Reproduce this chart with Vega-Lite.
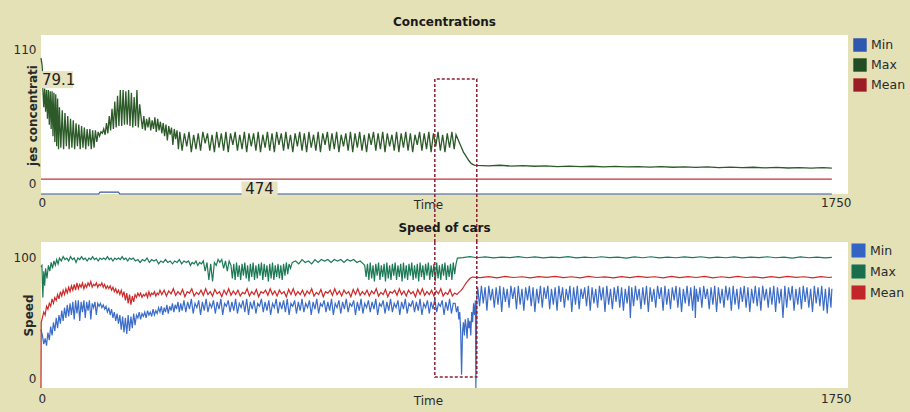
{
"$schema": "https://vega.github.io/schema/vega-lite/v6.json",
"background": "#e4e1b7",
"padding": {"left": 13, "top": 16, "right": 6, "bottom": 6},
"config": {
  "font": "DejaVu Sans",
  "view": {"fill": "white", "stroke": null},
  "axis": {"domain": false, "ticks": false, "grid": false, "labelFontSize": 12, "labelColor": "#2a2a2a", "titleFontSize": 12, "titleColor": "#2a2a2a", "titleFontWeight": "normal"},
  "axisX": {"labelFlush": true, "format": "d"},
  "axisY": {"labelFlush": false, "labelBaseline": "middle"},
  "title": {"fontSize": 12, "fontWeight": "bold", "color": "#1a1a1a"},
  "legend": {"title": null, "orient": "right", "symbolType": "square", "labelFontSize": 12.5, "labelColor": "#2a2a2a", "labelOffset": 4, "symbolStrokeWidth": 1}
},
"datasets": {
  "cMin": [{"t":0,"v":0},{"t":125,"v":0},{"t":128,"v":1.3},{"t":168,"v":1.3},{"t":171,"v":0},{"t":1715,"v":0}],
  "cMean": [{"t":0,"v":10.3},{"t":1715,"v":10.3}],
  "cMax": [{"t":0,"v":94},{"t":2,"v":90},{"t":3,"v":86},{"t":4,"v":73},{"t":6,"v":60},{"t":8,"v":73},{"t":10,"v":57},{"t":12,"v":72},{"t":14,"v":52},{"t":16,"v":72},{"t":18,"v":48},{"t":20,"v":71},{"t":22,"v":45},{"t":24,"v":71},{"t":26,"v":40},{"t":28,"v":70},{"t":30,"v":36},{"t":32,"v":69},{"t":34,"v":33},{"t":36,"v":66},{"t":38,"v":31},
  {"t":40,"v":60},{"t":43,"v":32},{"t":46,"v":58},{"t":49,"v":31},{"t":52,"v":56},{"t":55,"v":33},{"t":58,"v":54},{"t":61,"v":31},{"t":64,"v":52},{"t":67,"v":32},{"t":70,"v":51},{"t":73,"v":31},{"t":76,"v":49},{"t":79,"v":33},{"t":82,"v":48},{"t":85,"v":31},{"t":88,"v":47},{"t":91,"v":32},{"t":94,"v":46},{"t":97,"v":31},{"t":100,"v":45},{"t":103,"v":33},{"t":106,"v":45},{"t":109,"v":31},{"t":112,"v":44},{"t":115,"v":32},{"t":118,"v":44},{"t":121,"v":36},{"t":124,"v":43},{"t":127,"v":40},{"t":130,"v":43},
  {"t":133,"v":42},{"t":136,"v":45},{"t":139,"v":41},{"t":142,"v":49},{"t":145,"v":42},{"t":148,"v":54},{"t":151,"v":44},{"t":154,"v":59},{"t":157,"v":45},{"t":160,"v":64},{"t":163,"v":46},{"t":166,"v":68},{"t":169,"v":47},{"t":172,"v":72},{"t":175,"v":47},{"t":178,"v":72},{"t":181,"v":48},{"t":184,"v":71},{"t":187,"v":48},{"t":190,"v":72},{"t":193,"v":47},{"t":196,"v":70},{"t":199,"v":46},{"t":202,"v":67},{"t":205,"v":47},{"t":208,"v":72},{"t":211,"v":46},{"t":214,"v":62},
  {"t":217,"v":53},{"t":220,"v":45},{"t":223,"v":54},{"t":226,"v":44},{"t":229,"v":52},{"t":232,"v":46},{"t":235,"v":53},{"t":238,"v":44},{"t":241,"v":51},{"t":244,"v":45},{"t":247,"v":53},{"t":250,"v":43},{"t":253,"v":52},{"t":256,"v":44},
  {"t":259,"v":50},{"t":262,"v":42},{"t":265,"v":49},{"t":268,"v":40},{"t":271,"v":48},{"t":274,"v":37},{"t":277,"v":47},{"t":280,"v":41},{"t":283,"v":46},{"t":286,"v":34},{"t":289,"v":45},{"t":292,"v":38},{"t":295,"v":44},{"t":298,"v":31},
  {"t":301,"v":43},{"t":306,"v":30},{"t":311,"v":42},{"t":316,"v":33},{"t":321,"v":43},{"t":326,"v":29},{"t":331,"v":41},{"t":336,"v":31},{"t":341,"v":42},{"t":346,"v":30},{"t":351,"v":43},{"t":356,"v":35},{"t":361,"v":42},{"t":366,"v":30},{"t":371,"v":41},{"t":376,"v":29},{"t":381,"v":43},{"t":386,"v":32},{"t":391,"v":42},{"t":396,"v":30},{"t":401,"v":43},{"t":406,"v":29},{"t":411,"v":42},{"t":416,"v":34},{"t":421,"v":43},{"t":426,"v":30},{"t":431,"v":41},{"t":436,"v":31},{"t":441,"v":43},{"t":446,"v":29},{"t":451,"v":42},{"t":456,"v":33},{"t":461,"v":42},{"t":466,"v":30},{"t":471,"v":43},{"t":476,"v":29},{"t":481,"v":41},{"t":486,"v":32},{"t":491,"v":43},{"t":496,"v":30},{"t":501,"v":42},{"t":506,"v":29},{"t":511,"v":43},{"t":516,"v":34},{"t":521,"v":42},{"t":526,"v":30},{"t":531,"v":43},{"t":536,"v":31},{"t":541,"v":41},{"t":546,"v":29},{"t":551,"v":42},{"t":556,"v":33},{"t":561,"v":43},{"t":566,"v":30},{"t":571,"v":42},{"t":576,"v":29},{"t":581,"v":43},{"t":586,"v":32},{"t":591,"v":41},{"t":596,"v":30},{"t":601,"v":43},{"t":606,"v":29},{"t":611,"v":42},{"t":616,"v":34},{"t":621,"v":43},{"t":626,"v":30},{"t":631,"v":42},{"t":636,"v":31},{"t":641,"v":43},{"t":646,"v":29},{"t":651,"v":41},{"t":656,"v":33},{"t":661,"v":42},{"t":666,"v":30},{"t":671,"v":43},{"t":676,"v":29},{"t":681,"v":42},{"t":686,"v":32},{"t":691,"v":43},{"t":696,"v":30},{"t":701,"v":41},{"t":706,"v":29},{"t":711,"v":42},{"t":716,"v":34},{"t":721,"v":43},{"t":726,"v":30},{"t":731,"v":42},{"t":736,"v":31},{"t":741,"v":43},{"t":746,"v":29},{"t":751,"v":42},{"t":756,"v":33},{"t":761,"v":41},{"t":766,"v":30},{"t":771,"v":43},{"t":776,"v":29},{"t":781,"v":42},{"t":786,"v":32},{"t":791,"v":43},{"t":796,"v":30},{"t":801,"v":42},{"t":806,"v":29},{"t":811,"v":41},{"t":816,"v":34},{"t":821,"v":43},{"t":826,"v":30},{"t":831,"v":42},{"t":836,"v":31},{"t":841,"v":43},{"t":846,"v":29},{"t":851,"v":42},{"t":856,"v":33},{"t":861,"v":43},{"t":866,"v":30},{"t":871,"v":41},{"t":876,"v":29},{"t":881,"v":42},{"t":886,"v":32},{"t":891,"v":43},{"t":896,"v":31},
  {"t":900,"v":41},{"t":904,"v":38},{"t":908,"v":35},{"t":912,"v":32},{"t":916,"v":29},{"t":920,"v":27},{"t":924,"v":25},{"t":928,"v":23},{"t":932,"v":21.5},{"t":936,"v":20.5},{"t":940,"v":20},{"t":945,"v":19.8},
  {"t":970,"v":19.5},{"t":995,"v":19.9},{"t":1020,"v":19.3},{"t":1045,"v":19.6},{"t":1070,"v":19.2},{"t":1095,"v":19.5},{"t":1120,"v":19.0},{"t":1145,"v":19.3},{"t":1170,"v":18.9},{"t":1195,"v":19.2},{"t":1220,"v":18.8},{"t":1245,"v":19.1},{"t":1270,"v":18.7},{"t":1295,"v":19.0},{"t":1320,"v":18.6},{"t":1345,"v":18.9},{"t":1370,"v":18.5},{"t":1395,"v":18.8},{"t":1420,"v":18.4},{"t":1445,"v":18.7},{"t":1470,"v":18.3},{"t":1495,"v":18.6},{"t":1520,"v":18.2},{"t":1545,"v":18.5},{"t":1570,"v":18.1},{"t":1595,"v":18.4},{"t":1620,"v":18.0},{"t":1645,"v":18.3},{"t":1670,"v":17.9},{"t":1695,"v":18.2},{"t":1715,"v":17.9}],
  "sMax": [{"t":0,"v":83},{"t":2,"v":84},{"t":4,"v":62},{"t":6,"v":80},{"t":8,"v":70},{"t":10,"v":82},{"t":13,"v":75},{"t":16,"v":84},{"t":19,"v":80},{"t":22,"v":86},{"t":25,"v":82},{"t":28,"v":87},{"t":31,"v":84},{"t":34,"v":88},{"t":37,"v":85},{"t":40,"v":89},{"t":44,"v":87},{"t":48,"v":90},{"t":52,"v":88},{"t":56,"v":89},{"t":60,"v":87},{"t":64,"v":90},{"t":68,"v":88},{"t":72,"v":89},{"t":76,"v":86},{"t":80,"v":89},{"t":84,"v":88},{"t":88,"v":90},{"t":92,"v":88},{"t":96,"v":89},{"t":100,"v":87},{"t":104,"v":89},{"t":108,"v":88},{"t":112,"v":90},{"t":116,"v":88},{"t":120,"v":89},{"t":124,"v":87},{"t":128,"v":89},{"t":132,"v":88},{"t":136,"v":89},{"t":140,"v":88},{"t":144,"v":90},{"t":148,"v":88},{"t":152,"v":89},{"t":156,"v":87},{"t":160,"v":89},{"t":164,"v":88},{"t":168,"v":89},{"t":172,"v":88},{"t":176,"v":90},{"t":180,"v":88},{"t":184,"v":89},{"t":188,"v":87},{"t":192,"v":89},{"t":196,"v":88},{"t":200,"v":89},{"t":205,"v":87},{"t":210,"v":88},{"t":215,"v":86},{"t":220,"v":88},{"t":225,"v":87},{"t":230,"v":89},{"t":235,"v":86},{"t":240,"v":88},{"t":245,"v":87},{"t":250,"v":88},{"t":255,"v":85},{"t":260,"v":87},{"t":265,"v":86},{"t":270,"v":88},{"t":275,"v":86},{"t":280,"v":87},{"t":285,"v":85},{"t":290,"v":87},{"t":295,"v":86},{"t":300,"v":88},{"t":305,"v":85},{"t":310,"v":87},{"t":315,"v":86},{"t":320,"v":87},{"t":324,"v":84},{"t":328,"v":86},{"t":332,"v":85},{"t":336,"v":87},{"t":340,"v":84},{"t":344,"v":86},{"t":348,"v":85},{"t":352,"v":87},{"t":356,"v":80},{"t":360,"v":86},{"t":364,"v":74},{"t":368,"v":85},{"t":372,"v":73},{"t":376,"v":86},{"t":380,"v":84},{"t":384,"v":88},{"t":388,"v":86},{"t":392,"v":88},{"t":396,"v":82},{"t":400,"v":87},{"t":404,"v":80},{"t":408,"v":87},
  {"t":412,"v":84},{"t":415,"v":75},{"t":418,"v":85},{"t":421,"v":74},{"t":424,"v":86},{"t":427,"v":76},{"t":430,"v":84},{"t":433,"v":74},{"t":436,"v":85},{"t":439,"v":77},{"t":442,"v":86},{"t":445,"v":75},{"t":448,"v":84},{"t":451,"v":73},{"t":454,"v":85},{"t":457,"v":76},{"t":460,"v":86},{"t":463,"v":74},{"t":466,"v":84},{"t":469,"v":75},{"t":472,"v":85},{"t":475,"v":77},{"t":478,"v":86},{"t":481,"v":74},{"t":484,"v":85},{"t":487,"v":76},{"t":490,"v":84},{"t":493,"v":73},{"t":496,"v":85},{"t":499,"v":75},{"t":502,"v":86},{"t":505,"v":74},{"t":508,"v":84},{"t":511,"v":76},{"t":514,"v":85},{"t":517,"v":75},{"t":520,"v":84},{"t":523,"v":74},{"t":526,"v":85},{"t":529,"v":77},{"t":532,"v":86},{"t":535,"v":78},{"t":538,"v":85},{"t":541,"v":82},
  {"t":545,"v":86},{"t":552,"v":87},{"t":559,"v":85},{"t":566,"v":88},{"t":573,"v":86},{"t":580,"v":87},{"t":587,"v":85},{"t":594,"v":88},{"t":601,"v":86},{"t":608,"v":88},{"t":615,"v":87},{"t":622,"v":88},{"t":629,"v":86},{"t":636,"v":88},{"t":643,"v":87},{"t":650,"v":88},{"t":657,"v":86},{"t":664,"v":88},{"t":671,"v":87},{"t":678,"v":88},{"t":685,"v":86},{"t":692,"v":87},{"t":699,"v":85},
  {"t":702,"v":84},{"t":705,"v":76},{"t":708,"v":85},{"t":711,"v":74},{"t":714,"v":86},{"t":717,"v":75},{"t":720,"v":84},{"t":723,"v":73},{"t":726,"v":85},{"t":729,"v":77},{"t":732,"v":86},{"t":735,"v":74},{"t":738,"v":84},{"t":741,"v":76},{"t":744,"v":85},{"t":747,"v":73},{"t":750,"v":86},{"t":753,"v":75},{"t":756,"v":84},{"t":759,"v":74},{"t":762,"v":85},{"t":765,"v":77},{"t":768,"v":86},{"t":771,"v":74},{"t":774,"v":84},{"t":777,"v":76},{"t":780,"v":85},{"t":783,"v":73},{"t":786,"v":86},{"t":789,"v":75},{"t":792,"v":84},{"t":795,"v":74},{"t":798,"v":85},{"t":801,"v":77},{"t":804,"v":86},{"t":807,"v":74},{"t":810,"v":84},{"t":813,"v":75},{"t":816,"v":85},{"t":819,"v":73},{"t":822,"v":86},{"t":825,"v":76},{"t":828,"v":84},{"t":831,"v":74},{"t":834,"v":85},{"t":837,"v":77},{"t":840,"v":86},{"t":843,"v":74},{"t":846,"v":84},{"t":849,"v":76},{"t":852,"v":85},{"t":855,"v":73},{"t":858,"v":86},{"t":861,"v":75},{"t":864,"v":84},{"t":867,"v":74},{"t":870,"v":85},{"t":873,"v":77},{"t":876,"v":86},{"t":879,"v":74},{"t":882,"v":84},{"t":885,"v":76},{"t":888,"v":85},{"t":891,"v":74},{"t":894,"v":86},{"t":897,"v":78},{"t":900,"v":85},
  {"t":903,"v":89},{"t":915,"v":89.3},{"t":930,"v":90},{"t":945,"v":89.2},{"t":963,"v":89.8},{"t":981,"v":89.1},{"t":999,"v":89.7},{"t":1017,"v":89.3},{"t":1035,"v":90},{"t":1053,"v":89.2},{"t":1071,"v":89.8},{"t":1089,"v":89.1},{"t":1107,"v":89.6},{"t":1125,"v":89.3},{"t":1143,"v":90},{"t":1161,"v":89.1},{"t":1179,"v":89.7},{"t":1197,"v":89.2},{"t":1215,"v":89.9},{"t":1233,"v":89.3},{"t":1251,"v":89.7},{"t":1269,"v":89},{"t":1287,"v":89.8},{"t":1305,"v":89.2},{"t":1323,"v":89.9},{"t":1341,"v":89.1},{"t":1359,"v":89.6},{"t":1377,"v":89.2},{"t":1395,"v":89.8},{"t":1413,"v":89.3},{"t":1431,"v":89.9},{"t":1449,"v":89.1},{"t":1467,"v":89.7},{"t":1485,"v":89.2},{"t":1503,"v":89.8},{"t":1521,"v":89.1},{"t":1539,"v":89.6},{"t":1557,"v":89.3},{"t":1575,"v":89.9},{"t":1593,"v":89.2},{"t":1611,"v":89.7},{"t":1629,"v":89},{"t":1647,"v":89.8},{"t":1665,"v":89.2},{"t":1683,"v":89.7},{"t":1701,"v":89.1},{"t":1715,"v":89.5}],
  "sMean": [{"t":0,"v":0},{"t":0.5,"v":45},{"t":3,"v":48},{"t":6,"v":52},{"t":9,"v":50},{"t":12,"v":56},{"t":15,"v":54},{"t":18,"v":58},{"t":21,"v":56},{"t":24,"v":61},{"t":27,"v":58},{"t":30,"v":62},{"t":33,"v":60},{"t":36,"v":64},{"t":39,"v":61},{"t":42,"v":66},{"t":45,"v":63},{"t":48,"v":67},{"t":51,"v":64},{"t":54,"v":68},{"t":57,"v":65},{"t":60,"v":69},{"t":63,"v":66},{"t":66,"v":70},{"t":69,"v":67},{"t":72,"v":71},{"t":75,"v":67},{"t":78,"v":72},{"t":81,"v":68},{"t":84,"v":71},{"t":87,"v":69},{"t":90,"v":72},{"t":93,"v":68},{"t":96,"v":71},{"t":99,"v":69},{"t":102,"v":72},{"t":105,"v":70},{"t":108,"v":73},{"t":111,"v":69},{"t":114,"v":71},{"t":117,"v":70},{"t":120,"v":72},{"t":123,"v":69},{"t":126,"v":71},{"t":129,"v":70},{"t":132,"v":72},{"t":135,"v":69},{"t":138,"v":71},{"t":141,"v":68},{"t":144,"v":70},{"t":147,"v":68},{"t":150,"v":70},{"t":153,"v":67},{"t":156,"v":69},{"t":159,"v":66},{"t":162,"v":68},{"t":165,"v":65},{"t":168,"v":67},{"t":171,"v":64},{"t":174,"v":67},{"t":177,"v":63},{"t":180,"v":66},{"t":183,"v":60},{"t":186,"v":65},{"t":189,"v":58},{"t":192,"v":64},{"t":195,"v":57},{"t":198,"v":63},{"t":201,"v":59},{"t":204,"v":64},{"t":207,"v":62},{"t":210,"v":65},{"t":213,"v":63},{"t":216,"v":65},{"t":219,"v":62},{"t":222,"v":64},{"t":225,"v":63},{"t":228,"v":65},{"t":231,"v":62},{"t":234,"v":66},{"t":237,"v":63},{"t":240,"v":65},{"t":243,"v":64},{"t":246,"v":66},{"t":249,"v":63},{"t":252,"v":65},{"t":255,"v":64},{"t":258,"v":67},
  {"t":262,"v":64},{"t":267,"v":67},{"t":272,"v":63},{"t":277,"v":66.5},{"t":282,"v":64.5},{"t":287,"v":68},{"t":292,"v":63.5},{"t":297,"v":66},{"t":302,"v":64},{"t":307,"v":67.5},{"t":312,"v":62.5},{"t":317,"v":66},{"t":322,"v":65},{"t":327,"v":68},{"t":332,"v":63},{"t":337,"v":65.5},{"t":342,"v":64},{"t":347,"v":67},{"t":352,"v":63.5},{"t":357,"v":68},{"t":362,"v":64},{"t":367,"v":66},{"t":372,"v":63},{"t":377,"v":67.5},{"t":382,"v":64.5},{"t":387,"v":66},{"t":392,"v":62.5},{"t":397,"v":67},{"t":402,"v":64},{"t":407,"v":68},{"t":412,"v":63.5},{"t":417,"v":66.5},{"t":422,"v":64},{"t":427,"v":67},{"t":432,"v":63},{"t":437,"v":65.5},{"t":442,"v":64.5},{"t":447,"v":68},{"t":452,"v":63},{"t":457,"v":66},{"t":462,"v":64},{"t":467,"v":67.5},{"t":472,"v":62.5},{"t":477,"v":66},{"t":482,"v":65},{"t":487,"v":67},{"t":492,"v":63.5},{"t":497,"v":68},{"t":502,"v":64},{"t":507,"v":66.5},{"t":512,"v":63},{"t":517,"v":67},{"t":522,"v":64.5},{"t":527,"v":66},{"t":532,"v":62.5},{"t":537,"v":67.5},{"t":542,"v":64},{"t":547,"v":68},{"t":552,"v":63.5},{"t":557,"v":66},{"t":562,"v":64},{"t":567,"v":67},{"t":572,"v":63},{"t":577,"v":66.5},{"t":582,"v":64.5},{"t":587,"v":68},{"t":592,"v":63},{"t":597,"v":65.5},{"t":602,"v":64},{"t":607,"v":67.5},{"t":612,"v":62.5},{"t":617,"v":66},{"t":622,"v":65},{"t":627,"v":67},{"t":632,"v":63.5},{"t":637,"v":68},{"t":642,"v":64},{"t":647,"v":66.5},{"t":652,"v":63},{"t":657,"v":67},{"t":662,"v":64.5},{"t":667,"v":66},{"t":672,"v":62.5},{"t":677,"v":67.5},{"t":682,"v":64},{"t":687,"v":68},{"t":692,"v":63.5},{"t":697,"v":66},{"t":702,"v":64},{"t":707,"v":67},{"t":712,"v":63},{"t":717,"v":66.5},{"t":722,"v":64.5},{"t":727,"v":68},{"t":732,"v":63},{"t":737,"v":65.5},{"t":742,"v":64},{"t":747,"v":67.5},{"t":752,"v":62.5},{"t":757,"v":66},{"t":762,"v":65},{"t":767,"v":67},{"t":772,"v":63.5},{"t":777,"v":68},{"t":782,"v":64},{"t":787,"v":66.5},{"t":792,"v":63},{"t":797,"v":67},{"t":802,"v":64.5},{"t":807,"v":66},{"t":812,"v":62.5},{"t":817,"v":67.5},{"t":822,"v":64},{"t":827,"v":68},{"t":832,"v":63.5},{"t":837,"v":66},{"t":842,"v":64},{"t":847,"v":67},{"t":852,"v":63},{"t":857,"v":66.5},{"t":862,"v":64.5},{"t":867,"v":68},{"t":872,"v":63},{"t":877,"v":65.5},{"t":882,"v":64},{"t":887,"v":67.5},{"t":892,"v":63},{"t":897,"v":65},
  {"t":902,"v":64},{"t":906,"v":65.5},{"t":910,"v":66.5},{"t":914,"v":68},{"t":918,"v":70},{"t":922,"v":72},{"t":926,"v":73.5},{"t":930,"v":75},{"t":935,"v":76},
  {"t":953,"v":75.6},{"t":971,"v":76.3},{"t":989,"v":75.5},{"t":1007,"v":76.4},{"t":1025,"v":75.7},{"t":1043,"v":76.2},{"t":1061,"v":75.4},{"t":1079,"v":76.3},{"t":1097,"v":75.8},{"t":1115,"v":76.5},{"t":1133,"v":75.6},{"t":1151,"v":76.2},{"t":1169,"v":75.5},{"t":1187,"v":76.4},{"t":1205,"v":75.7},{"t":1223,"v":76.1},{"t":1241,"v":75.4},{"t":1259,"v":76.3},{"t":1277,"v":75.6},{"t":1295,"v":76.4},{"t":1313,"v":75.8},{"t":1331,"v":76.2},{"t":1349,"v":75.5},{"t":1367,"v":76.4},{"t":1385,"v":75.6},{"t":1403,"v":76.3},{"t":1421,"v":75.7},{"t":1439,"v":76.5},{"t":1457,"v":75.5},{"t":1475,"v":76.2},{"t":1493,"v":75.6},{"t":1511,"v":76.4},{"t":1529,"v":75.7},{"t":1547,"v":76.1},{"t":1565,"v":75.4},{"t":1583,"v":76.3},{"t":1601,"v":75.6},{"t":1619,"v":76.4},{"t":1637,"v":75.8},{"t":1655,"v":76.2},{"t":1673,"v":75.5},{"t":1691,"v":76.3},{"t":1709,"v":75.7},{"t":1715,"v":76}],
  "sMin": [{"t":0,"v":40},{"t":3,"v":36},{"t":6,"v":30},{"t":9,"v":34},{"t":12,"v":29},{"t":15,"v":38},{"t":18,"v":33},{"t":21,"v":42},{"t":24,"v":36},{"t":27,"v":45},{"t":30,"v":39},{"t":33,"v":48},{"t":36,"v":41},{"t":39,"v":50},{"t":42,"v":44},{"t":45,"v":53},{"t":48,"v":46},{"t":51,"v":55},{"t":54,"v":48},{"t":57,"v":57},{"t":60,"v":49},{"t":63,"v":58},{"t":66,"v":50},{"t":69,"v":59},{"t":72,"v":47},{"t":75,"v":60},{"t":78,"v":51},{"t":81,"v":60},{"t":84,"v":46},{"t":87,"v":59},{"t":90,"v":52},{"t":93,"v":60},{"t":96,"v":48},{"t":99,"v":59},{"t":102,"v":53},{"t":105,"v":60},{"t":108,"v":47},{"t":111,"v":58},{"t":114,"v":55},{"t":117,"v":59},{"t":120,"v":50},{"t":123,"v":58},{"t":126,"v":56},{"t":129,"v":58},{"t":132,"v":55},{"t":135,"v":57},{"t":138,"v":54},{"t":141,"v":56},{"t":144,"v":52},{"t":147,"v":55},{"t":150,"v":50},{"t":153,"v":54},{"t":156,"v":48},{"t":159,"v":52},{"t":162,"v":46},{"t":165,"v":51},{"t":168,"v":44},{"t":171,"v":50},{"t":174,"v":40},{"t":177,"v":49},{"t":180,"v":38},{"t":183,"v":48},{"t":186,"v":37},{"t":189,"v":50},{"t":192,"v":39},{"t":195,"v":49},{"t":198,"v":41},{"t":201,"v":51},{"t":204,"v":43},{"t":207,"v":50},{"t":210,"v":48},{"t":213,"v":52},{"t":216,"v":47},{"t":219,"v":51},{"t":222,"v":49},{"t":225,"v":52},{"t":228,"v":48},{"t":231,"v":53},{"t":234,"v":50},{"t":237,"v":52},{"t":240,"v":49},{"t":243,"v":54},{"t":246,"v":50},{"t":249,"v":53},{"t":252,"v":51},{"t":255,"v":55},{"t":258,"v":52},{"t":261,"v":56},{"t":264,"v":50},{"t":267,"v":55},{"t":270,"v":52},{"t":273,"v":57},{"t":276,"v":51},{"t":279,"v":56},{"t":282,"v":53},{"t":285,"v":58},{"t":288,"v":52},{"t":291,"v":57},{"t":294,"v":54},{"t":297,"v":59},{"t":300,"v":52},{"t":303,"v":58},{"t":306,"v":53},
  {"t":310,"v":60},{"t":314,"v":52},{"t":318,"v":59},{"t":322,"v":54},{"t":326,"v":61},{"t":330,"v":51},{"t":334,"v":58},{"t":338,"v":55},{"t":342,"v":60},{"t":346,"v":50},{"t":350,"v":59},{"t":354,"v":53},{"t":358,"v":61},{"t":362,"v":52},{"t":366,"v":58},{"t":370,"v":55},{"t":374,"v":60},{"t":378,"v":51},{"t":382,"v":59},{"t":386,"v":54},{"t":390,"v":61},{"t":394,"v":50},{"t":398,"v":58},{"t":402,"v":56},{"t":406,"v":60},{"t":410,"v":52},{"t":414,"v":59},{"t":418,"v":53},{"t":422,"v":61},{"t":426,"v":51},{"t":430,"v":58},{"t":434,"v":55},{"t":438,"v":60},{"t":442,"v":52},{"t":446,"v":61},{"t":450,"v":50},{"t":454,"v":59},{"t":458,"v":54},{"t":462,"v":60},{"t":466,"v":51},{"t":470,"v":58},{"t":474,"v":56},{"t":478,"v":61},{"t":482,"v":52},{"t":486,"v":59},{"t":490,"v":53},{"t":494,"v":60},{"t":498,"v":50},{"t":502,"v":58},{"t":506,"v":55},{"t":510,"v":61},{"t":514,"v":51},{"t":518,"v":59},{"t":522,"v":54},{"t":526,"v":60},{"t":530,"v":52},{"t":534,"v":61},{"t":538,"v":50},{"t":542,"v":58},{"t":546,"v":56},{"t":550,"v":60},{"t":554,"v":51},{"t":558,"v":59},{"t":562,"v":53},{"t":566,"v":61},{"t":570,"v":52},{"t":574,"v":58},{"t":578,"v":55},{"t":582,"v":60},{"t":586,"v":50},{"t":590,"v":59},{"t":594,"v":54},{"t":598,"v":61},{"t":602,"v":51},{"t":606,"v":58},{"t":610,"v":56},{"t":614,"v":60},{"t":618,"v":52},{"t":622,"v":59},{"t":626,"v":53},{"t":630,"v":61},{"t":634,"v":50},{"t":638,"v":58},{"t":642,"v":55},{"t":646,"v":60},{"t":650,"v":51},{"t":654,"v":59},{"t":658,"v":54},{"t":662,"v":61},{"t":666,"v":52},{"t":670,"v":58},{"t":674,"v":56},{"t":678,"v":60},{"t":682,"v":50},{"t":686,"v":59},{"t":690,"v":53},{"t":694,"v":61},{"t":698,"v":51},{"t":702,"v":58},{"t":706,"v":55},{"t":710,"v":60},{"t":714,"v":52},{"t":718,"v":59},{"t":722,"v":54},{"t":726,"v":61},{"t":730,"v":50},{"t":734,"v":58},{"t":738,"v":56},{"t":742,"v":60},{"t":746,"v":51},{"t":750,"v":59},{"t":754,"v":53},{"t":758,"v":61},{"t":762,"v":52},{"t":766,"v":58},{"t":770,"v":55},{"t":774,"v":60},{"t":778,"v":50},{"t":782,"v":59},{"t":786,"v":54},{"t":790,"v":61},{"t":794,"v":51},{"t":798,"v":58},{"t":802,"v":56},{"t":806,"v":60},{"t":810,"v":52},{"t":814,"v":59},{"t":818,"v":53},{"t":822,"v":61},{"t":826,"v":50},{"t":830,"v":58},{"t":834,"v":55},{"t":838,"v":60},{"t":842,"v":51},{"t":846,"v":59},{"t":850,"v":54},{"t":854,"v":61},{"t":858,"v":52},{"t":862,"v":58},{"t":866,"v":56},{"t":870,"v":60},{"t":874,"v":50},{"t":878,"v":59},{"t":882,"v":53},{"t":886,"v":61},{"t":890,"v":51},{"t":894,"v":58},
  {"t":898,"v":58},{"t":901,"v":52},{"t":904,"v":56},{"t":906,"v":47},{"t":908,"v":52},{"t":910,"v":40},{"t":912,"v":9},{"t":914,"v":38},{"t":916,"v":45},{"t":918,"v":36},{"t":920,"v":47},{"t":922,"v":42},{"t":924,"v":34},{"t":926,"v":48},{"t":928,"v":41},{"t":930,"v":46},{"t":932,"v":36},{"t":934,"v":52},{"t":936,"v":45},{"t":938,"v":58},{"t":940,"v":50},{"t":942,"v":60},{"t":943,"v":0},{"t":945,"v":62},{"t":947,"v":69},
  {"t":951,"v":56},{"t":955,"v":70},{"t":959,"v":58},{"t":963,"v":69},{"t":967,"v":53},{"t":971,"v":70},{"t":975,"v":60},{"t":979,"v":68},{"t":983,"v":55},{"t":987,"v":69},{"t":991,"v":57},{"t":995,"v":70},{"t":999,"v":52},{"t":1003,"v":69},{"t":1007,"v":59},{"t":1011,"v":68},{"t":1015,"v":55},{"t":1019,"v":70},{"t":1023,"v":61},{"t":1027,"v":69},{"t":1031,"v":54},{"t":1035,"v":70},{"t":1039,"v":57},{"t":1043,"v":68},{"t":1047,"v":53},{"t":1051,"v":69},{"t":1055,"v":60},{"t":1059,"v":70},{"t":1063,"v":56},{"t":1067,"v":69},{"t":1071,"v":52},{"t":1075,"v":68},{"t":1079,"v":58},{"t":1083,"v":70},{"t":1087,"v":55},{"t":1091,"v":69},{"t":1095,"v":61},{"t":1099,"v":70},{"t":1103,"v":54},{"t":1107,"v":68},{"t":1111,"v":57},{"t":1115,"v":69},{"t":1119,"v":53},{"t":1123,"v":70},{"t":1127,"v":59},{"t":1131,"v":69},{"t":1135,"v":55},{"t":1139,"v":68},{"t":1143,"v":60},{"t":1147,"v":70},{"t":1151,"v":52},{"t":1155,"v":69},{"t":1159,"v":57},{"t":1163,"v":70},{"t":1167,"v":54},{"t":1171,"v":68},{"t":1175,"v":61},{"t":1179,"v":69},{"t":1183,"v":56},{"t":1187,"v":70},{"t":1191,"v":53},{"t":1195,"v":69},{"t":1199,"v":58},{"t":1203,"v":68},{"t":1207,"v":55},{"t":1211,"v":70},{"t":1215,"v":60},{"t":1219,"v":69},{"t":1223,"v":52},{"t":1227,"v":70},{"t":1231,"v":57},{"t":1235,"v":68},{"t":1239,"v":54},{"t":1243,"v":69},{"t":1247,"v":59},{"t":1251,"v":70},{"t":1255,"v":55},{"t":1259,"v":69},{"t":1263,"v":53},{"t":1267,"v":68},{"t":1271,"v":58},{"t":1275,"v":70},{"t":1278,"v":48},{"t":1281,"v":69},{"t":1285,"v":56},{"t":1289,"v":70},{"t":1293,"v":60},{"t":1297,"v":68},{"t":1301,"v":54},{"t":1305,"v":69},{"t":1309,"v":57},{"t":1313,"v":70},{"t":1317,"v":52},{"t":1321,"v":69},{"t":1325,"v":59},{"t":1329,"v":68},{"t":1333,"v":55},{"t":1337,"v":70},{"t":1341,"v":61},{"t":1345,"v":69},{"t":1349,"v":53},{"t":1353,"v":70},{"t":1357,"v":57},{"t":1361,"v":68},{"t":1365,"v":54},{"t":1369,"v":69},{"t":1373,"v":60},{"t":1377,"v":70},{"t":1381,"v":55},{"t":1385,"v":69},{"t":1389,"v":52},{"t":1393,"v":68},{"t":1397,"v":58},{"t":1401,"v":70},{"t":1405,"v":56},{"t":1409,"v":69},{"t":1413,"v":53},{"t":1417,"v":70},{"t":1419,"v":48},{"t":1421,"v":68},{"t":1425,"v":59},{"t":1429,"v":69},{"t":1433,"v":55},{"t":1437,"v":70},{"t":1441,"v":61},{"t":1445,"v":68},{"t":1449,"v":54},{"t":1453,"v":69},{"t":1457,"v":57},{"t":1461,"v":70},{"t":1465,"v":52},{"t":1469,"v":69},{"t":1473,"v":58},{"t":1477,"v":68},{"t":1481,"v":55},{"t":1485,"v":70},{"t":1489,"v":60},{"t":1493,"v":69},{"t":1497,"v":53},{"t":1501,"v":70},{"t":1505,"v":57},{"t":1509,"v":68},{"t":1513,"v":54},{"t":1517,"v":69},{"t":1521,"v":59},{"t":1525,"v":70},{"t":1529,"v":55},{"t":1533,"v":69},{"t":1537,"v":52},{"t":1541,"v":68},{"t":1545,"v":58},{"t":1549,"v":70},{"t":1553,"v":56},{"t":1557,"v":69},{"t":1561,"v":53},{"t":1565,"v":70},{"t":1569,"v":60},{"t":1573,"v":68},{"t":1577,"v":55},{"t":1581,"v":69},{"t":1585,"v":57},{"t":1589,"v":70},{"t":1593,"v":52},{"t":1597,"v":69},{"t":1601,"v":58},{"t":1605,"v":68},{"t":1609,"v":48},{"t":1613,"v":70},{"t":1617,"v":55},{"t":1621,"v":69},{"t":1625,"v":60},{"t":1629,"v":70},{"t":1633,"v":53},{"t":1637,"v":68},{"t":1641,"v":57},{"t":1645,"v":69},{"t":1649,"v":54},{"t":1653,"v":70},{"t":1657,"v":59},{"t":1661,"v":69},{"t":1665,"v":55},{"t":1669,"v":68},{"t":1673,"v":52},{"t":1677,"v":70},{"t":1681,"v":58},{"t":1685,"v":69},{"t":1689,"v":56},{"t":1693,"v":70},{"t":1697,"v":53},{"t":1701,"v":68},{"t":1705,"v":51},{"t":1709,"v":69},{"t":1713,"v":55},{"t":1715,"v":68}],
  "tips": [{"label":"79.1","t":0,"v":79.1},{"label":"474","t":474,"v":0}],
  "boxTop": [{"k":1,"t":854,"v":-33.2},{"k":2,"t":854,"v":79.6},{"k":3,"t":945,"v":79.6},{"k":4,"t":945,"v":-33.2}],
  "boxBot": [{"k":1,"t":854,"v":100},{"k":2,"t":854,"v":7.5},{"k":3,"t":945,"v":7.5},{"k":4,"t":945,"v":100}]
},
"spacing": 48,
"bounds": "flush",
"resolve": {"scale": {"color": "independent"}},
"vconcat": [
{
  "width": 807, "height": 159,
  "title": {"text": "Concentrations", "offset": 6},
  "layer": [
    {"data": {"name": "cMin"}, "mark": {"type": "line", "strokeWidth": 1.2},
     "encoding": {
       "x": {"field": "t", "type": "quantitative", "scale": {"domain": [0, 1750], "nice": false, "zero": false},
             "axis": {"values": [0, 1750], "title": "Time", "titleX": 387, "titleY": 10, "titleBaseline": "middle", "titleAlign": "center", "labelPadding": 3, "labelFlushOffset": 3}},
       "y": {"field": "v", "type": "quantitative", "scale": {"domain": [0, 110], "nice": false},
             "axis": {"values": [0, 110], "title": "jes concentrati", "titleX": -9, "titleY": 80, "titleAngle": 270, "titleBaseline": "middle", "titleAlign": "center", "titleFontWeight": "bold", "labelPadding": 5,
                      "labelOffset": {"condition": {"test": "datum.value === 0", "value": -11}, "value": 14}}},
       "color": {"datum": "Min", "type": "nominal",
                 "scale": {"domain": ["Min", "Max", "Mean"], "range": ["#3558a8", "#2c5a28", "#bf3535"]},
                 "legend": {"offset": 2, "padding": 3, "symbolSize": 165, "rowPadding": 4,
                            "encode": {"symbols": {"update": {"fill": {"signal": "datum.value === 'Min' ? '#2d57b0' : datum.value === 'Max' ? '#234d25' : '#9a1c25'"}, "fillOpacity": {"value": 1}, "stroke": {"value": "#3a3a3a"}, "strokeWidth": {"value": 0.6}}}}}}}},
    {"data": {"name": "cMax"}, "mark": {"type": "line", "strokeWidth": 1.3},
     "encoding": {"x": {"field": "t", "type": "quantitative"}, "y": {"field": "v", "type": "quantitative"}, "color": {"datum": "Max", "type": "nominal"}}},
    {"data": {"name": "cMean"}, "mark": {"type": "line", "strokeWidth": 1.2},
     "encoding": {"x": {"field": "t", "type": "quantitative"}, "y": {"field": "v", "type": "quantitative"}, "color": {"datum": "Mean", "type": "nominal"}}},
    {"data": {"name": "tips"}, "transform": [{"filter": "datum.label === '79.1'"}],
     "mark": {"type": "rect", "width": 32, "height": 17, "xOffset": 16, "fill": "#e7e3c1"},
     "encoding": {"x": {"field": "t", "type": "quantitative"}, "y": {"field": "v", "type": "quantitative"}}},
    {"data": {"name": "tips"}, "transform": [{"filter": "datum.label === '79.1'"}],
     "mark": {"type": "text", "align": "left", "baseline": "middle", "dx": 1, "fontSize": 15, "color": "#222"},
     "encoding": {"x": {"field": "t", "type": "quantitative"}, "y": {"field": "v", "type": "quantitative"}, "text": {"field": "label"}}},
    {"data": {"name": "tips"}, "transform": [{"filter": "datum.label === '474'"}],
     "mark": {"type": "rect", "width": 36, "height": 15, "yOffset": -5, "fill": "#e7e3c1"},
     "encoding": {"x": {"field": "t", "type": "quantitative"}, "y": {"field": "v", "type": "quantitative"}}},
    {"data": {"name": "tips"}, "transform": [{"filter": "datum.label === '474'"}],
     "mark": {"type": "text", "align": "center", "baseline": "middle", "dy": -5, "fontSize": 15, "color": "#222"},
     "encoding": {"x": {"field": "t", "type": "quantitative"}, "y": {"field": "v", "type": "quantitative"}, "text": {"field": "label"}}},
    {"data": {"name": "boxTop"}, "mark": {"type": "line", "color": "#8c1f33", "strokeWidth": 1.5, "strokeDash": [3, 2]},
     "encoding": {"x": {"field": "t", "type": "quantitative"}, "y": {"field": "v", "type": "quantitative"}, "order": {"field": "k"}}}
  ]
},
{
  "width": 807, "height": 146,
  "title": {"text": "Speed of cars", "offset": 4},
  "layer": [
    {"data": {"name": "sMin"}, "mark": {"type": "line", "strokeWidth": 1.2},
     "encoding": {
       "x": {"field": "t", "type": "quantitative", "scale": {"domain": [0, 1750], "nice": false, "zero": false},
             "axis": {"values": [0, 1750], "title": "Time", "titleX": 387, "titleY": 12, "titleBaseline": "middle", "titleAlign": "center", "labelPadding": 5, "labelFlushOffset": 3}},
       "y": {"field": "v", "type": "quantitative", "scale": {"domain": [0, 100], "nice": false},
             "axis": {"values": [0, 100], "title": "Speed", "titleX": -13, "titleY": 73, "titleAngle": 270, "titleBaseline": "middle", "titleAlign": "center", "titleFontWeight": "bold", "labelPadding": 5,
                      "labelOffset": {"condition": {"test": "datum.value === 0", "value": -10}, "value": 15}}},
       "color": {"datum": "Min", "type": "nominal",
                 "scale": {"domain": ["Min", "Max", "Mean"], "range": ["#3a6cc8", "#1b7a55", "#cc2a2a"]},
                 "legend": {"offset": 2, "padding": 1, "symbolSize": 180, "rowPadding": 4,
                            "encode": {"symbols": {"update": {"fill": {"signal": "datum.value === 'Min' ? '#3264c4' : datum.value === 'Max' ? '#1a6e4e' : '#c0262a'"}, "fillOpacity": {"value": 1}, "stroke": {"value": "#3a3a3a"}, "strokeWidth": {"value": 0.6}}}}}}}},
    {"data": {"name": "sMax"}, "mark": {"type": "line", "strokeWidth": 1.2},
     "encoding": {"x": {"field": "t", "type": "quantitative"}, "y": {"field": "v", "type": "quantitative"}, "color": {"datum": "Max", "type": "nominal"}}},
    {"data": {"name": "sMean"}, "mark": {"type": "line", "strokeWidth": 1.2},
     "encoding": {"x": {"field": "t", "type": "quantitative"}, "y": {"field": "v", "type": "quantitative"}, "color": {"datum": "Mean", "type": "nominal"}}},
    {"data": {"name": "boxBot"}, "mark": {"type": "line", "color": "#8c1f33", "strokeWidth": 1.5, "strokeDash": [3, 2]},
     "encoding": {"x": {"field": "t", "type": "quantitative"}, "y": {"field": "v", "type": "quantitative"}, "order": {"field": "k"}}}
  ]
}
]
}
